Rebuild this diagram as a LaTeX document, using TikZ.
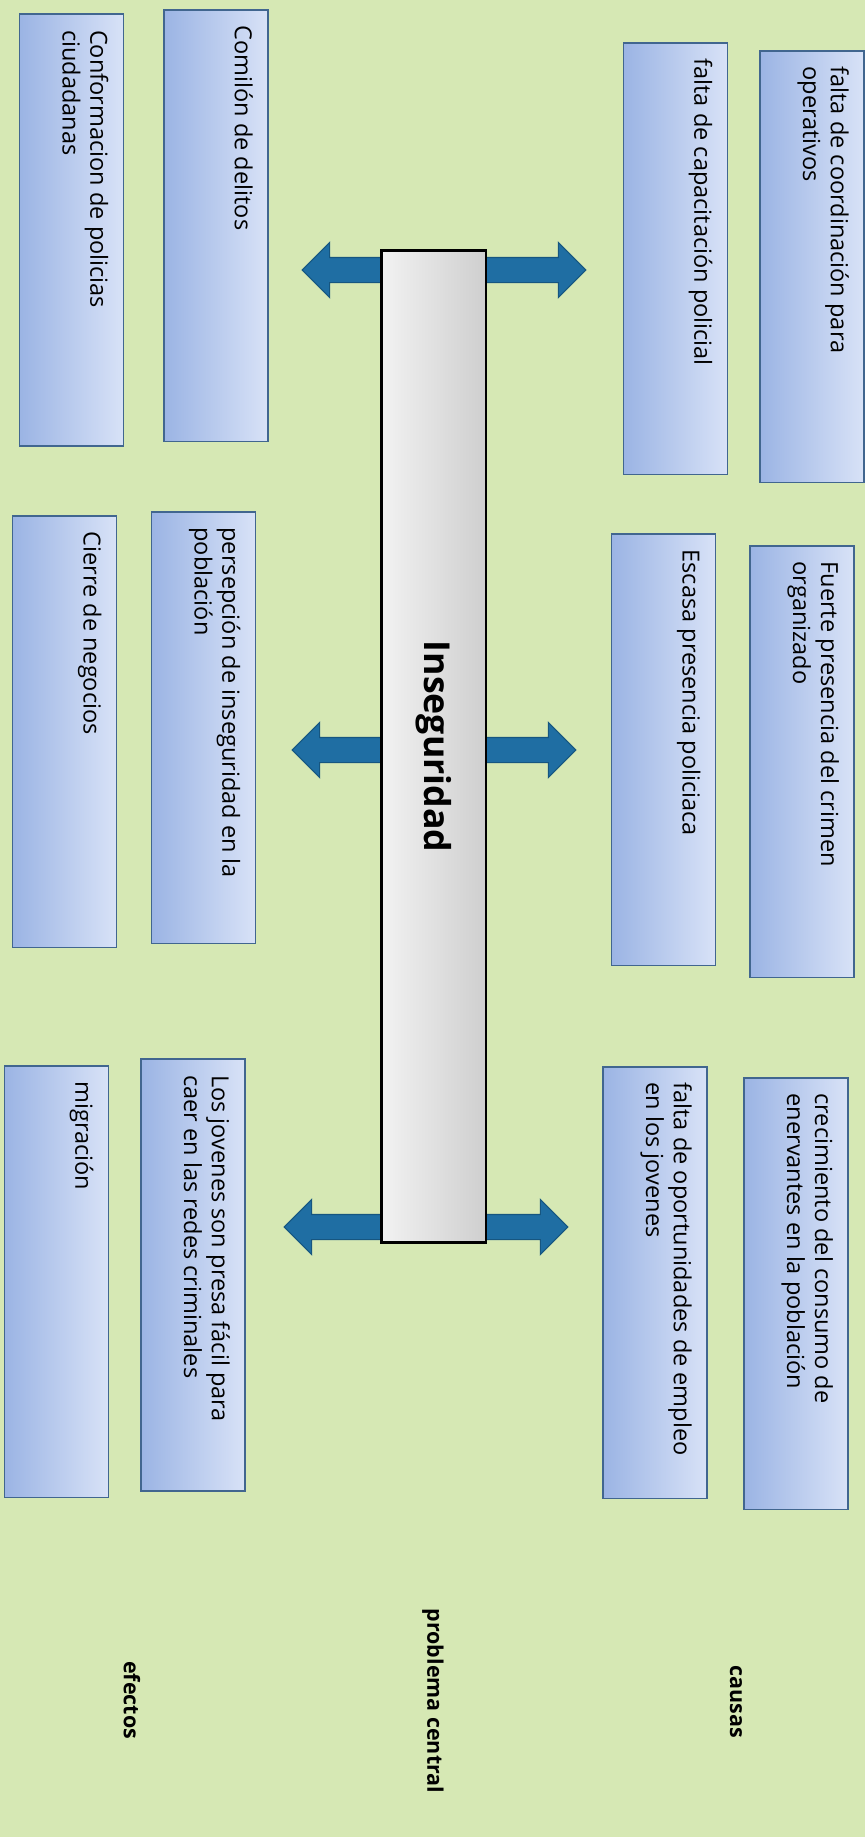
\documentclass[tikz,border=0pt]{standalone}
\usepackage{fontspec}
\setmainfont{Open Sans}
\usetikzlibrary{shapes.arrows}
\definecolor{fondo}{RGB}{214,232,180}
\definecolor{cajaborde}{RGB}{65,102,143}
\definecolor{cajaclaro}{RGB}{216,226,247}
\definecolor{cajaoscuro}{RGB}{155,180,228}
\definecolor{flecha}{RGB}{31,110,163}
\definecolor{flechaborde}{RGB}{22,86,128}
\newcommand{\cajatexto}[1]{\parbox[t][1.48cm][t]{8cm}{\raggedright #1}}
\tikzset{
  caja/.style={rotate=-90, draw=cajaborde, line width=1.1pt,
    left color=cajaoscuro, right color=cajaclaro,
    inner xsep=0.32cm, inner ysep=0.3cm,
    font=\fontsize{13.4pt}{15.9pt}\selectfont},
  flechadoble/.style={double arrow, fill=flecha, draw=flechaborde, line width=0.6pt,
    minimum height=5.68cm, inner sep=0.24cm, double arrow head extend=0.3cm},
  barra/.style={rotate=-90, draw=black, line width=1.7pt,
    left color=gray!10, right color=gray!38,
    minimum width=19.86cm, minimum height=2.1cm,
    font=\fontsize{20.3pt}{24pt}\selectfont\bfseries},
  etiqueta/.style={rotate=-90, font=\fontsize{12.2pt}{14pt}\selectfont\bfseries}
}
\begin{document}
\begin{tikzpicture}[x=0.02cm,y=-0.02cm]
\useasboundingbox (0,0) rectangle (865,1837);
\fill[fondo] (0,0) rectangle (865,1837);
% flechas detras de la barra
\node[flechadoble] (flecha1) at (444,270) {};
\node[flechadoble] (flecha2) at (434,750) {};
\node[flechadoble] (flecha3) at (426,1227) {};
% problema central
\node[barra] (problema) at (433.5,746.5) {Inseguridad};
% causas
\node[caja] (coordinacion) at (812,266.5) {\cajatexto{falta de coordinación para\\operativos}};
\node[caja] (capacitacion) at (675.5,258.5) {\cajatexto{falta de capacitación policial}};
\node[caja] (crimen) at (802,761.5) {\cajatexto{Fuerte presencia del crimen\\organizado}};
\node[caja] (presencia) at (663.5,749.5) {\cajatexto{Escasa presencia policiaca}};
\node[caja] (consumo) at (796,1293.5) {\cajatexto{crecimiento del consumo de\\enervantes en la población}};
\node[caja] (empleo) at (655,1282.5) {\cajatexto{falta de oportunidades de empleo\\en los jovenes}};
% efectos
\node[caja] (delitos) at (216,225.5) {\cajatexto{Comilón de delitos}};
\node[caja] (ciudadanas) at (71.5,230) {\cajatexto{Conformacion de policias\\ciudadanas}};
\node[caja] (persepcion) at (203.5,727.5) {\cajatexto{persepción de inseguridad en la\\población}};
\node[caja] (negocios) at (64.5,731.5) {\cajatexto{Cierre de negocios}};
\node[caja] (redes) at (193,1275) {\cajatexto{Los jovenes son presa fácil para\\caer en las redes criminales}};
\node[caja] (migracion) at (56.5,1281.5) {\cajatexto{migración}};
% rotulos
\node[etiqueta] (efectos) at (132,1700) {efectos};
\node[etiqueta] (central) at (433,1701) {problema central};
\node[etiqueta] (causas) at (736,1702) {causas};
\end{tikzpicture}
\end{document}
